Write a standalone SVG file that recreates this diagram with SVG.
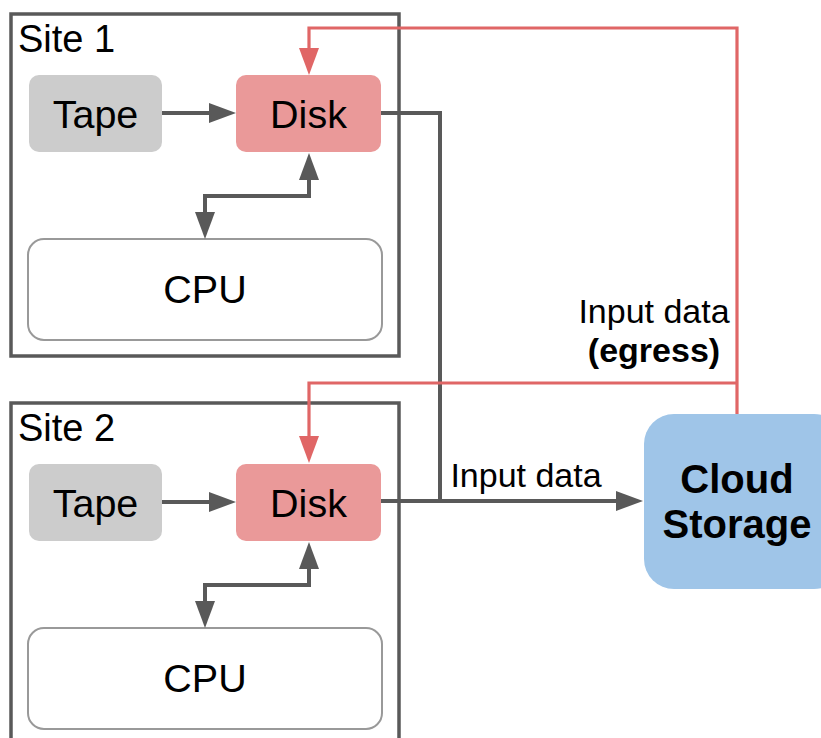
<svg xmlns="http://www.w3.org/2000/svg" width="821" height="738" viewBox="0 0 821 738">
<defs>
<style>
text{font-family:"Liberation Sans",Arial,sans-serif;fill:#000}
.site{fill:none;stroke:#595959;stroke-width:3.5}
.tape{fill:#cccccc}
.disk{fill:#ea9999}
.cpu{fill:#fff;stroke:#999999;stroke-width:2}
.cloud{fill:#9fc5e8}
.lbl{font-size:39.5px;text-anchor:middle}
.big{font-size:40px}
.sitelbl{font-size:38px}
.small{font-size:34px;text-anchor:middle}
.bold{font-weight:bold}
.g{fill:none;stroke:#595959;stroke-width:4}
.r{fill:none;stroke:#e06666;stroke-width:3.2}
</style>
<marker id="ag" markerUnits="userSpaceOnUse" markerWidth="27" markerHeight="20" refX="19" refY="10" orient="auto-start-reverse" viewBox="0 0 27 20"><path d="M0,0 L27,10 L0,20 z" fill="#595959"/></marker>
<marker id="ar" markerUnits="userSpaceOnUse" markerWidth="27" markerHeight="20" refX="19" refY="10" orient="auto-start-reverse" viewBox="0 0 27 20"><path d="M0,0 L27,10 L0,20 z" fill="#e06666"/></marker>
</defs>
<g id="site1">
<rect class="site" x="11" y="14" width="388" height="342"/>
<text class="sitelbl" x="18" y="52">Site 1</text>
</g>
<g id="site2">
<rect class="site" x="11" y="403" width="388" height="360"/>
<text class="sitelbl" x="18" y="441">Site 2</text>
</g>
<g id="tape1"><rect class="tape" x="29" y="75" width="133" height="77" rx="10"/><text class="lbl" x="95.5" y="128">Tape</text></g>
<g id="disk1"><rect class="disk" x="236" y="75" width="145" height="77" rx="10"/><text class="lbl" x="308.5" y="128">Disk</text></g>
<g id="cpu1"><rect class="cpu" x="28" y="239" width="354" height="101" rx="16"/><text class="lbl" x="205" y="303">CPU</text></g>
<g id="tape2"><rect class="tape" x="29" y="464" width="133" height="77" rx="10"/><text class="lbl" x="95.5" y="517">Tape</text></g>
<g id="disk2"><rect class="disk" x="236" y="464" width="145" height="77" rx="10"/><text class="lbl" x="308.5" y="517">Disk</text></g>
<g id="cpu2"><rect class="cpu" x="28" y="628" width="354" height="101" rx="16"/><text class="lbl" x="205" y="692">CPU</text></g>
<g id="cloud"><rect class="cloud" x="644" y="414" width="200" height="175" rx="30"/><text class="lbl big bold" x="737" y="493">Cloud</text><text class="lbl big bold" x="737" y="538">Storage</text></g>
<g id="connectors">
<path class="g" d="M162,113 H228" marker-end="url(#ag)"/>
<path class="g" d="M309,161 V196 H205 V231" marker-start="url(#ag)" marker-end="url(#ag)"/>
<path class="g" d="M162,502 H228" marker-end="url(#ag)"/>
<path class="g" d="M309,550 V585 H205 V620" marker-start="url(#ag)" marker-end="url(#ag)"/>
<path class="g" d="M381,113 H440 V501"/>
<path class="g" d="M381,501 H635" marker-end="url(#ag)"/>
<path class="r" d="M737,414 V28 H309 V67" marker-end="url(#ar)"/>
<path class="r" d="M737,383 H309 V455" marker-end="url(#ar)"/>
<text class="small" x="654" y="323">Input data</text>
<text class="small bold" x="654" y="362">(egress)</text>
<text class="small" x="526" y="487">Input data</text>
</g>
</svg>
